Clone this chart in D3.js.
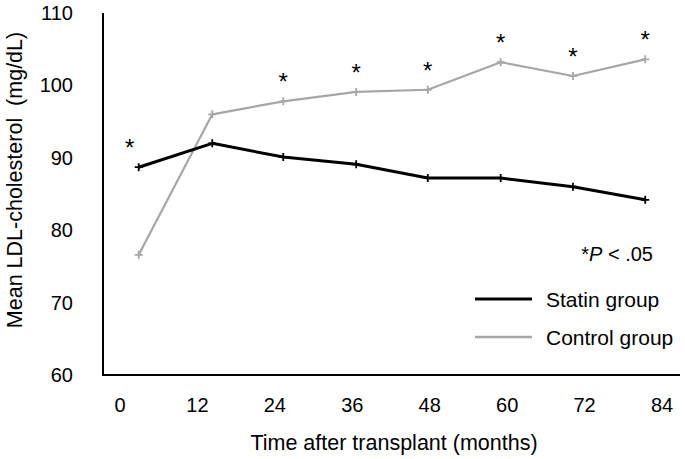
<!DOCTYPE html>
<html>
<head>
<meta charset="utf-8">
<script src="https://cdn.jsdelivr.net/npm/d3@7"></script>
<style>
  body { margin: 0; background: #fff; }
  text { font-family: "Liberation Sans", Arial, sans-serif; fill: #000; }
</style>
</head>
<body>
<script>
// values
var months = [2.9, 14.3, 25.3, 36.6, 47.7, 59.0, 70.2, 81.4];
var statin = [88.7, 92.0, 90.1, 89.1, 87.2, 87.2, 86.0, 84.2];
var control = [76.6, 96.0, 97.8, 99.1, 99.4, 103.2, 101.3, 103.6];
var significant = [true, false, true, true, true, true, true, true];
var xTicks = [0, 12, 24, 36, 48, 60, 72, 84];
var yTicks = [60, 70, 80, 90, 100, 110];

var width = 685, height = 459;

var svg = d3.select("body").append("svg")
  .attr("width", width)
  .attr("height", height);

var xScale = d3.scaleLinear().domain([0, 84]).range([120, 662]);
var yScale = d3.scaleLinear().domain([60, 110]).range([375, 13]);

// axes lines
svg.append("line")
  .attr("x1", 103).attr("x2", 103)
  .attr("y1", yScale(110)).attr("y2", yScale(60) + 1)
  .attr("stroke", "#000").attr("stroke-width", 2);
svg.append("line")
  .attr("x1", 102).attr("x2", 680)
  .attr("y1", yScale(60)).attr("y2", yScale(60))
  .attr("stroke", "#000").attr("stroke-width", 2);

// tick labels
svg.selectAll(".ytick").data(yTicks).enter().append("text")
  .attr("x", 73)
  .attr("y", function(d){ return yScale(d) + 7; })
  .attr("text-anchor", "end")
  .style("font-size", "20px")
  .text(function(d){ return d; });

svg.selectAll(".xtick").data(xTicks).enter().append("text")
  .attr("x", function(d){ return xScale(d); })
  .attr("y", 412)
  .attr("text-anchor", "middle")
  .style("font-size", "20px")
  .text(function(d){ return d; });

// axis titles
svg.append("text")
  .attr("x", 394).attr("y", 450)
  .attr("text-anchor", "middle")
  .style("font-size", "21.5px")
  .text("Time after transplant (months)");

svg.append("text")
  .attr("transform", "translate(22,180) rotate(-90)")
  .attr("text-anchor", "middle")
  .attr("xml:space", "preserve")
  .style("font-size", "21.5px")
  .style("white-space", "pre")
  .text("Mean LDL-cholesterol  (mg/dL)");

var line = d3.line()
  .x(function(d){ return xScale(d[0]); })
  .y(function(d){ return yScale(d[1]); });

var drawSeries = function(values, color, lw) {
  var pts = months.map(function(m, i){ return [m, values[i]]; });
  svg.append("path")
    .datum(pts)
    .attr("d", line)
    .attr("fill", "none")
    .attr("stroke", color)
    .attr("stroke-width", lw)
    .attr("stroke-linejoin", "round");
  var g = svg.append("g");
  pts.forEach(function(p){
    var cx = xScale(p[0]), cy = yScale(p[1]);
    g.append("path")
      .attr("d", "M" + (cx - 4) + "," + cy + "H" + (cx + 4) + "M" + cx + "," + (cy - 4) + "V" + (cy + 4))
      .attr("stroke", color)
      .attr("stroke-width", 1.8);
  });
};

drawSeries(control, "#a6a6a6", 2.2);
drawSeries(statin, "#000", 3);

// significance asterisks
months.forEach(function(m, i){
  if (!significant[i]) return;
  var top = Math.max(statin[i], control[i]);
  var x = xScale(m) + (i == 0 ? -9 : 0);
  svg.append("text")
    .attr("x", x)
    .attr("y", yScale(top) - 24 + 13)
    .attr("text-anchor", "middle")
    .style("font-size", "24px")
    .text("*");
});

// legend
var pText = svg.append("text")
  .attr("x", 653).attr("y", 261)
  .attr("text-anchor", "end")
  .style("font-size", "20px");
pText.append("tspan").text("*");
pText.append("tspan").style("font-style", "italic").text("P");
pText.append("tspan").text(" < .05");

var legend = [
  {name: "Statin group", color: "#000", lw: 3, y: 299},
  {name: "Control group", color: "#a6a6a6", lw: 2.5, y: 337}
];
legend.forEach(function(d){
  svg.append("line")
    .attr("x1", 475).attr("x2", 532)
    .attr("y1", d.y).attr("y2", d.y)
    .attr("stroke", d.color)
    .attr("stroke-width", d.lw);
  svg.append("text")
    .attr("x", 546).attr("y", d.y + 7.5)
    .style("font-size", "21px")
    .text(d.name);
});
</script>
</body>
</html>
